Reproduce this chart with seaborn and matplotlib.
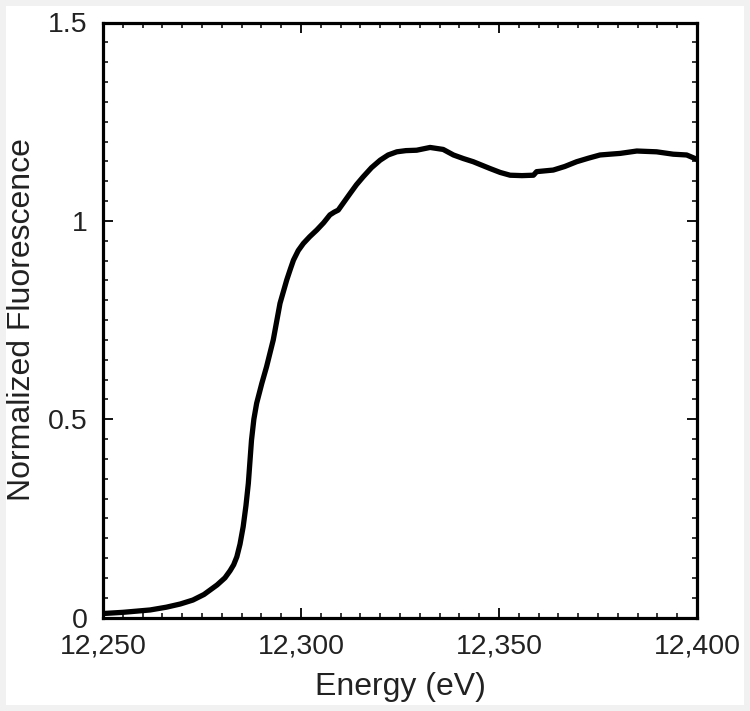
import matplotlib
matplotlib.use("Agg")
import matplotlib.pyplot as plt
import seaborn as sns
import pandas as pd
from matplotlib.ticker import MultipleLocator, FuncFormatter
from matplotlib.patches import Rectangle

energy = [12250.0, 12255.0, 12261.9, 12266.0, 12269.5, 12272.7, 12275.5, 12278.8, 12280.8,
          12282.1, 12283.0, 12283.8, 12284.6, 12285.4, 12286.1, 12286.7, 12287.5, 12288.1,
          12288.8, 12290.1, 12291.3, 12293.0, 12294.7, 12296.4, 12297.3, 12298.1, 12299.3,
          12300.6, 12302.2, 12304.0, 12305.7, 12307.3, 12308.4, 12309.4, 12310.9, 12312.4,
          12314.0, 12315.7, 12317.8, 12320.0, 12322.0, 12324.2, 12326.5, 12329.2, 12332.6,
          12335.9, 12338.5, 12341.0, 12343.5, 12347.7, 12350.3, 12352.8, 12355.8, 12358.7,
          12359.5, 12363.7, 12366.6, 12369.6, 12372.6, 12375.5, 12378.0, 12380.6, 12384.8,
          12389.8, 12394.0, 12397.4, 12400.0]
fluorescence = [0.010, 0.013, 0.019, 0.026, 0.034, 0.044, 0.058, 0.082, 0.100,
                0.118, 0.133, 0.153, 0.185, 0.229, 0.282, 0.338, 0.447, 0.500,
                0.540, 0.590, 0.632, 0.700, 0.792, 0.851, 0.878, 0.901, 0.925,
                0.943, 0.960, 0.977, 0.995, 1.015, 1.022, 1.027, 1.048, 1.069,
                1.091, 1.111, 1.134, 1.153, 1.166, 1.174, 1.177, 1.178, 1.185,
                1.180, 1.166, 1.157, 1.149, 1.132, 1.122, 1.115, 1.114, 1.115,
                1.124, 1.128, 1.137, 1.149, 1.158, 1.166, 1.168, 1.170, 1.176,
                1.174, 1.168, 1.166, 1.155]

x_ticks = [12250, 12300, 12350, 12400]
y_ticks = [0, 0.5, 1, 1.5]
y_tick_labels = ["0", "0.5", "1", "1.5"]

sns.set_style("ticks")
plt.rcParams['font.family'] = ['Liberation Sans', 'DejaVu Sans']

df = pd.DataFrame({"Energy": energy, "Fluorescence": fluorescence})

fig = plt.figure(figsize=(7.5, 7.11), dpi=100)
fig.patch.set_facecolor("#f1f1f1")
fig.patches.append(Rectangle((6 / 750, 6 / 711), (744 - 6) / 750, (705 - 6) / 711,
                             transform=fig.transFigure, facecolor="white",
                             edgecolor="none", zorder=-10))
ax = fig.add_axes([103 / 750, 1 - 617.5 / 711, 594 / 750, 595 / 711])
ax.set_facecolor("white")

sns.lineplot(data=df, x="Energy", y="Fluorescence", ax=ax, color="black",
             linewidth=3.8, estimator=None, sort=False)

ax.set_xlim(12250, 12400)
ax.set_ylim(0, 1.5)
ax.set_xticks(x_ticks)
ax.xaxis.set_major_formatter(FuncFormatter(lambda v, p: f"{int(round(v)):,}"))
ax.set_yticks(y_ticks)
ax.set_yticklabels(y_tick_labels)
ax.xaxis.set_minor_locator(MultipleLocator(5))
ax.yaxis.set_minor_locator(MultipleLocator(0.05))

ax.tick_params(which="both", direction="in", top=True, right=True, color="black")
ax.tick_params(which="major", length=7, width=1.3, labelsize=20.5, labelcolor="#222222")
ax.tick_params(which="minor", length=3.5, width=1.1)
ax.tick_params(axis="x", which="major", pad=11.5)
ax.tick_params(axis="y", which="major", pad=11)

for s in ax.spines.values():
    s.set_linewidth(2.3)
    s.set_color("black")

ax.set_xlabel("Energy (eV)", fontsize=23, color="#222222", labelpad=9)
ax.set_ylabel("Normalized Fluorescence", fontsize=23, color="#222222", labelpad=8)

fig.savefig("out.png", dpi=100, facecolor=fig.get_facecolor())
